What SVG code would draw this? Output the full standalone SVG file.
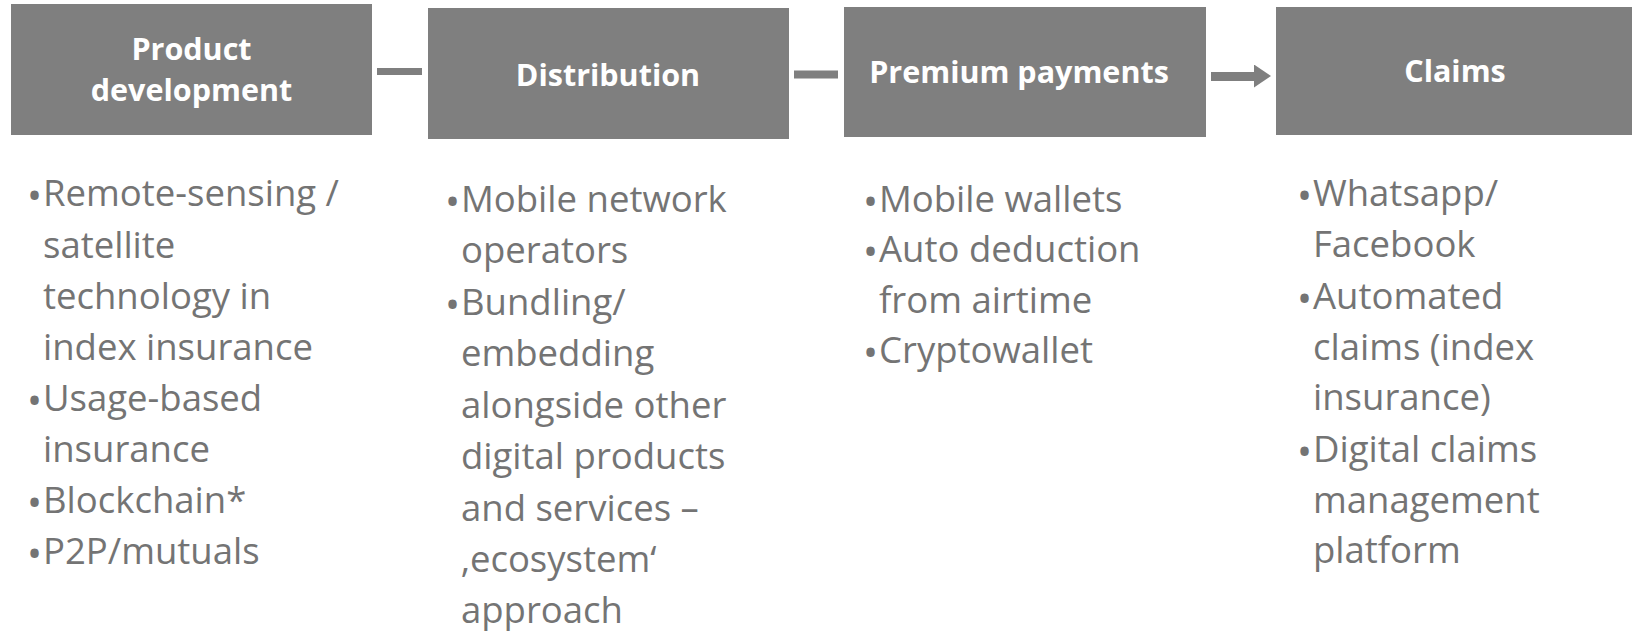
<svg xmlns="http://www.w3.org/2000/svg" width="1632" height="631" viewBox="0 0 1632 631">
<style>
.box{fill:#7f7f7f}
.hd{font-family:"Open Sans","Liberation Sans",sans-serif;font-weight:bold;font-size:30.5px;fill:#ffffff;text-anchor:middle}
.bl{font-family:"Open Sans","Liberation Sans",sans-serif;font-size:36.5px;fill:#747474}
.bu{font-size:40px}
.con{stroke:#7f7f7f;fill:none}
</style>
<defs>
<marker id="ah" markerUnits="userSpaceOnUse" markerWidth="18" markerHeight="24" refX="1" refY="12" orient="auto">
<path d="M0,0 L17,11.5 L0,23 Z" fill="#7f7f7f"/>
</marker>
</defs>
<rect width="1632" height="631" fill="#ffffff"/>
<g id="connectors">
<line class="con" x1="377" y1="71.5" x2="422" y2="71.5" stroke-width="7"/>
<line class="con" x1="794" y1="74.5" x2="838" y2="74.5" stroke-width="8"/>
<line class="con" x1="1211" y1="76.5" x2="1255" y2="76.5" stroke-width="9" marker-end="url(#ah)"/>
</g>
<g id="product-development">
<rect class="box" x="11" y="4" width="361" height="131"/>
<text class="hd" x="191.5" y="60">Product</text>
<text class="hd" x="191.5" y="101">development</text>
<g class="bl">
<text x="27" y="206"><tspan class="bu" dy="4">•</tspan><tspan x="43" dy="-4">Remote-sensing /</tspan></text>
<text x="43" y="258">satellite</text>
<text x="43" y="309">technology in</text>
<text x="43" y="360">index insurance</text>
<text x="27" y="411"><tspan class="bu" dy="4">•</tspan><tspan x="43" dy="-4">Usage-based</tspan></text>
<text x="43" y="462">insurance</text>
<text x="27" y="513"><tspan class="bu" dy="4">•</tspan><tspan x="43" dy="-4">Blockchain*</tspan></text>
<text x="27" y="564"><tspan class="bu" dy="4">•</tspan><tspan x="43" dy="-4">P2P/mutuals</tspan></text>
</g>
</g>
<g id="distribution">
<rect class="box" x="428" y="8" width="361" height="131"/>
<text class="hd" x="608" y="86">Distribution</text>
<g class="bl">
<text x="445" y="212"><tspan class="bu" dy="4">•</tspan><tspan x="461" dy="-4">Mobile network</tspan></text>
<text x="461" y="263">operators</text>
<text x="445" y="315"><tspan class="bu" dy="4">•</tspan><tspan x="461" dy="-4">Bundling/</tspan></text>
<text x="461" y="366">embedding</text>
<text x="461" y="418">alongside other</text>
<text x="461" y="469">digital products</text>
<text x="461" y="521">and services –</text>
<text x="461" y="572">‚ecosystem‘</text>
<text x="461" y="623">approach</text>
</g>
</g>
<g id="premium-payments">
<rect class="box" x="844" y="7" width="362" height="130"/>
<text class="hd" x="1019" y="83">Premium payments</text>
<g class="bl">
<text x="863" y="212"><tspan class="bu" dy="4">•</tspan><tspan x="879" dy="-4">Mobile wallets</tspan></text>
<text x="863" y="262"><tspan class="bu" dy="4">•</tspan><tspan x="879" dy="-4">Auto deduction</tspan></text>
<text x="879" y="313">from airtime</text>
<text x="863" y="363"><tspan class="bu" dy="4">•</tspan><tspan x="879" dy="-4">Cryptowallet</tspan></text>
</g>
</g>
<g id="claims">
<rect class="box" x="1276" y="7" width="360" height="128"/>
<text class="hd" x="1455" y="82">Claims</text>
<g class="bl">
<text x="1297" y="206"><tspan class="bu" dy="4">•</tspan><tspan x="1313" dy="-4">Whatsapp/</tspan></text>
<text x="1313" y="257">Facebook</text>
<text x="1297" y="309"><tspan class="bu" dy="4">•</tspan><tspan x="1313" dy="-4">Automated</tspan></text>
<text x="1313" y="360">claims (index</text>
<text x="1313" y="410">insurance)</text>
<text x="1297" y="462"><tspan class="bu" dy="4">•</tspan><tspan x="1313" dy="-4">Digital claims</tspan></text>
<text x="1313" y="513">management</text>
<text x="1313" y="563">platform</text>
</g>
</g>
</svg>
